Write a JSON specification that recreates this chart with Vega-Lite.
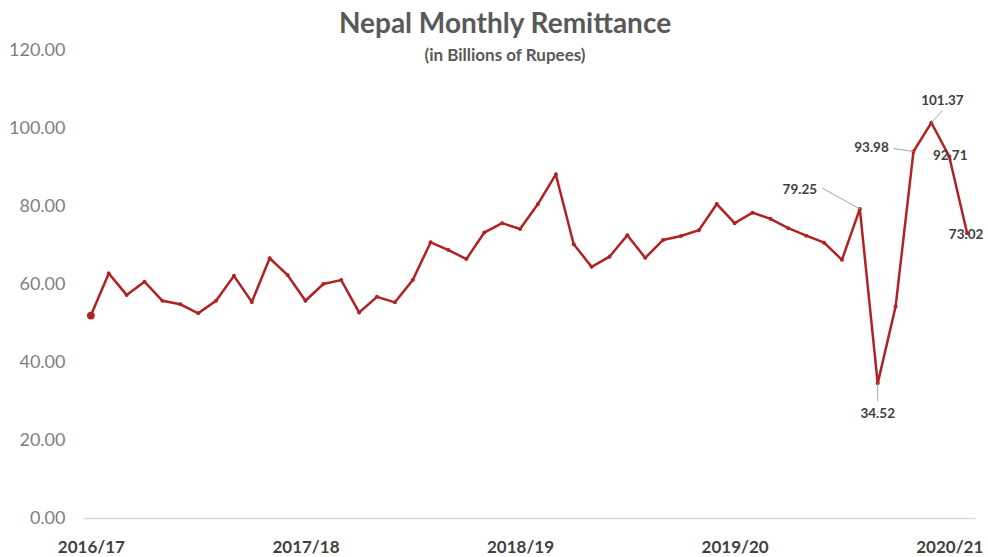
{
  "$schema": "https://vega.github.io/schema/vega-lite/v6.json",
  "width": 892,
  "height": 468,
  "autosize": {"type": "none"},
  "padding": {"left": 83, "top": 50, "right": 13, "bottom": 39},
  "background": "white",
  "config": {"view": {"stroke": null}, "font": "Lato"},
  "title": {
    "text": "Nepal Monthly Remittance",
    "subtitle": "(in Billions of Rupees)",
    "font": "Lato",
    "fontSize": 28,
    "fontWeight": "bold",
    "color": "#595959",
    "subtitleFont": "Lato",
    "subtitleFontSize": 17,
    "subtitleFontWeight": "bold",
    "subtitleColor": "#595959",
    "subtitlePadding": 9,
    "anchor": "middle",
    "frame": "group",
    "dx": -24,
    "offset": -23
  },
  "data": {
    "values": [
      {"month": "2016-07", "value": 51.9},
      {"month": "2016-08", "value": 62.7},
      {"month": "2016-09", "value": 57.2},
      {"month": "2016-10", "value": 60.6},
      {"month": "2016-11", "value": 55.7},
      {"month": "2016-12", "value": 54.8},
      {"month": "2017-01", "value": 52.5},
      {"month": "2017-02", "value": 55.7},
      {"month": "2017-03", "value": 62.1},
      {"month": "2017-04", "value": 55.4},
      {"month": "2017-05", "value": 66.6},
      {"month": "2017-06", "value": 62.3},
      {"month": "2017-07", "value": 55.7},
      {"month": "2017-08", "value": 60.0},
      {"month": "2017-09", "value": 61.0},
      {"month": "2017-10", "value": 52.7},
      {"month": "2017-11", "value": 56.7},
      {"month": "2017-12", "value": 55.3},
      {"month": "2018-01", "value": 61.0},
      {"month": "2018-02", "value": 70.7},
      {"month": "2018-03", "value": 68.7},
      {"month": "2018-04", "value": 66.4},
      {"month": "2018-05", "value": 73.2},
      {"month": "2018-06", "value": 75.6},
      {"month": "2018-07", "value": 74.1},
      {"month": "2018-08", "value": 80.5},
      {"month": "2018-09", "value": 88.1},
      {"month": "2018-10", "value": 70.2},
      {"month": "2018-11", "value": 64.4},
      {"month": "2018-12", "value": 67.0},
      {"month": "2019-01", "value": 72.5},
      {"month": "2019-02", "value": 66.7},
      {"month": "2019-03", "value": 71.3},
      {"month": "2019-04", "value": 72.3},
      {"month": "2019-05", "value": 73.8},
      {"month": "2019-06", "value": 80.5},
      {"month": "2019-07", "value": 75.6},
      {"month": "2019-08", "value": 78.3},
      {"month": "2019-09", "value": 76.7},
      {"month": "2019-10", "value": 74.3},
      {"month": "2019-11", "value": 72.4},
      {"month": "2019-12", "value": 70.6},
      {"month": "2020-01", "value": 66.2},
      {"month": "2020-02", "value": 79.25},
      {"month": "2020-03", "value": 34.52},
      {"month": "2020-04", "value": 54.2},
      {"month": "2020-05", "value": 93.98},
      {"month": "2020-06", "value": 101.37},
      {"month": "2020-07", "value": 92.71},
      {"month": "2020-08", "value": 73.02}
    ]
  },
  "encoding": {
    "x": {
      "field": "month",
      "type": "ordinal",
      "sort": null,
      "scale": {"type": "point", "padding": 0.44},
      "axis": {
        "title": null,
        "orient": "bottom",
        "values": ["2016-07", "2017-07", "2018-07", "2019-07", "2020-07"],
        "labelExpr": "substring(datum.value,0,4) + '/' + substring(toString(toNumber(substring(datum.value,0,4)) + 1),2,4)",
        "labelAngle": 0,
        "labelFont": "Lato",
        "labelFontSize": 17,
        "labelFontWeight": "bold",
        "labelColor": "#404040",
        "labelPadding": 21,
        "ticks": false,
        "grid": false,
        "domain": true,
        "domainColor": "#d9d9d9",
        "domainWidth": 1.5
      }
    },
    "y": {
      "field": "value",
      "type": "quantitative",
      "scale": {"domain": [0, 120], "nice": false, "zero": true},
      "axis": {
        "title": null,
        "values": [0, 20, 40, 60, 80, 100, 120],
        "format": ".2f",
        "labelFont": "Lato",
        "labelFontSize": 18,
        "labelColor": "#7f7f7f",
        "labelPadding": 18,
        "ticks": false,
        "domain": false,
        "grid": false
      }
    }
  },
  "layer": [
    {"mark": {"type": "line", "color": "#B22222", "strokeWidth": 2.5}},
    {"mark": {"type": "point", "filled": true, "color": "#B22222", "size": 16, "opacity": 1}},
    {
      "transform": [{"filter": "datum.month == '2016-07'"}],
      "mark": {"type": "point", "filled": true, "color": "#B22222", "size": 60, "opacity": 1}
    },
    {
      "transform": [{"filter": "datum.month == '2020-02'"}],
      "mark": {"type": "rule", "color": "#a6a6a6", "strokeWidth": 1, "x2Offset": -38, "y2Offset": -21},
      "encoding": {"x2": {"field": "month"}, "y2": {"field": "value"}}
    },
    {
      "transform": [{"filter": "datum.month == '2020-05'"}],
      "mark": {"type": "rule", "color": "#a6a6a6", "strokeWidth": 1, "x2Offset": -20, "y2Offset": -3},
      "encoding": {"x2": {"field": "month"}, "y2": {"field": "value"}}
    },
    {
      "transform": [{"filter": "datum.month == '2020-06'"}],
      "mark": {"type": "rule", "color": "#a6a6a6", "strokeWidth": 1, "x2Offset": 11, "y2Offset": -12},
      "encoding": {"x2": {"field": "month"}, "y2": {"field": "value"}}
    },
    {
      "transform": [{"filter": "datum.month == '2020-03'"}],
      "mark": {"type": "rule", "color": "#a6a6a6", "strokeWidth": 1, "y2Offset": 18},
      "encoding": {"x2": {"field": "month"}, "y2": {"field": "value"}}
    },
    {
      "transform": [{"filter": "datum.month == '2020-02'"}],
      "mark": {"type": "text", "font": "Lato", "fontSize": 13.5, "fontWeight": "bold", "color": "#404040", "dx": -60, "dy": -19},
      "encoding": {"text": {"field": "value", "format": ".2f"}}
    },
    {
      "transform": [{"filter": "datum.month == '2020-05'"}],
      "mark": {"type": "text", "font": "Lato", "fontSize": 13.5, "fontWeight": "bold", "color": "#404040", "dx": -42, "dy": -3},
      "encoding": {"text": {"field": "value", "format": ".2f"}}
    },
    {
      "transform": [{"filter": "datum.month == '2020-06'"}],
      "mark": {"type": "text", "font": "Lato", "fontSize": 13.5, "fontWeight": "bold", "color": "#404040", "dx": 11, "dy": -22},
      "encoding": {"text": {"field": "value", "format": ".2f"}}
    },
    {
      "transform": [{"filter": "datum.month == '2020-07'"}],
      "mark": {"type": "text", "font": "Lato", "fontSize": 13.5, "fontWeight": "bold", "color": "#404040", "dx": 1, "dy": 0},
      "encoding": {"text": {"field": "value", "format": ".2f"}}
    },
    {
      "transform": [{"filter": "datum.month == '2020-08'"}],
      "mark": {"type": "text", "font": "Lato", "fontSize": 13.5, "fontWeight": "bold", "color": "#404040", "dx": -1, "dy": 2},
      "encoding": {"text": {"field": "value", "format": ".2f"}}
    },
    {
      "transform": [{"filter": "datum.month == '2020-03'"}],
      "mark": {"type": "text", "font": "Lato", "fontSize": 13.5, "fontWeight": "bold", "color": "#404040", "dx": 0, "dy": 31},
      "encoding": {"text": {"field": "value", "format": ".2f"}}
    }
  ]
}
